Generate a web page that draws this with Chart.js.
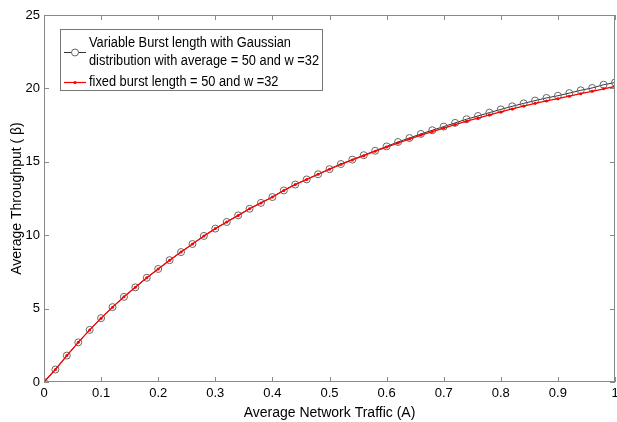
<!DOCTYPE html>
<html lang="en">
<head>
<meta charset="utf-8" />
<title>Average Throughput vs Network Traffic</title>
<script src="https://cdn.jsdelivr.net/npm/chart.js@4.4"></script>
<style>
  html,body{margin:0;padding:0;background:#fff;overflow:hidden;}
  #wrap{width:620px;height:422px;position:relative;}
</style>
</head>
<body>
<div id="wrap"><canvas id="c"></canvas></div>
<script>
/***** ---------- Data ---------- *****/
const trafficA=[0,0.02,0.04,0.06,0.08,0.10,0.12,0.14,0.16,0.18,
  0.20,0.22,0.24,0.26,0.28,0.30,0.32,0.34,0.36,0.38,
  0.40,0.42,0.44,0.46,0.48,0.50,0.52,0.54,0.56,0.58,
  0.60,0.62,0.64,0.66,0.68,0.70,0.72,0.74,0.76,0.78,
  0.80,0.82,0.84,0.86,0.88,0.90,0.92,0.94,0.96,0.98,1.00];
const gaussianBurst=[0,0.85,1.8,2.7,3.55,4.35,5.1,5.8,6.45,7.1,
  7.7,8.3,8.85,9.4,9.95,10.45,10.9,11.35,11.8,12.2,
  12.6,13.05,13.45,13.8,14.15,14.5,14.85,15.15,15.45,15.75,
  16.05,16.35,16.62,16.9,17.15,17.4,17.65,17.9,18.12,18.35,
  18.57,18.78,18.98,19.17,19.35,19.5,19.68,19.87,20.03,20.25,20.4];
const fixedBurst=[0,0.85,1.8,2.7,3.55,4.35,5.1,5.8,6.45,7.1,
  7.7,8.3,8.85,9.4,9.95,10.45,10.9,11.35,11.8,12.2,
  12.6,13.05,13.45,13.8,14.15,14.5,14.83,15.13,15.42,15.72,
  16.0,16.28,16.55,16.82,17.06,17.3,17.54,17.77,17.98,18.2,
  18.4,18.6,18.8,18.98,19.15,19.3,19.47,19.64,19.8,19.97,20.13];
const xTicks=[0,0.1,0.2,0.3,0.4,0.5,0.6,0.7,0.8,0.9,1];
const yTicks=[0,5,10,15,20,25];
const legendLines=[
  ['Variable Burst length with Gaussian','distribution with average = 50 and w =32'],
  ['fixed burst length = 50 and w =32']
];

const FONT='"Liberation Sans",Arial,sans-serif';
const FRAME='#8a8a8a';

function pts(ys){return trafficA.map((x,i)=>({x:x,y:ys[i]}));}

/***** ---------- Frame + inward ticks + legend ---------- *****/
const framePlugin={
  id:'frame',
  afterDraw(chart){
    const {ctx,chartArea:a,scales}=chart;
    ctx.save();
    ctx.strokeStyle=FRAME;ctx.lineWidth=1;
    ctx.strokeRect(a.left+0.5,a.top+0.5,a.right-a.left-1,a.bottom-a.top-1);
    ctx.beginPath();
    xTicks.forEach(v=>{
      const px=Math.round(scales.x.getPixelForValue(v))+0.5;
      ctx.moveTo(px,a.bottom);ctx.lineTo(px,a.bottom-5);
      ctx.moveTo(px,a.top);ctx.lineTo(px,a.top+5);
    });
    yTicks.forEach(v=>{
      const py=Math.round(scales.y.getPixelForValue(v))+0.5;
      ctx.moveTo(a.left,py);ctx.lineTo(a.left+5,py);
      ctx.moveTo(a.right,py);ctx.lineTo(a.right-5,py);
    });
    ctx.stroke();

    // legend box
    const bx=60.5,by=29.5,bw=262,bh=61;
    ctx.fillStyle='#fff';ctx.fillRect(bx,by,bw,bh);
    ctx.strokeStyle='#777';ctx.strokeRect(bx,by,bw,bh);
    ctx.fillStyle='#000';ctx.textBaseline='middle';
    // text is a little narrower in the original, squeeze it horizontally
    ctx.save();
    ctx.translate(89,0);ctx.scale(0.915,1);
    ctx.font='14px '+FONT;
    ctx.fillText(legendLines[0][0],0,43);
    ctx.fillText(legendLines[0][1],0,61);
    ctx.fillText(legendLines[1][0],0,82);
    ctx.restore();
    // sample: gaussian
    ctx.strokeStyle='#333';ctx.lineWidth=1;
    ctx.beginPath();ctx.moveTo(64,52.5);ctx.lineTo(86,52.5);ctx.stroke();
    ctx.strokeStyle='#666';
    ctx.beginPath();ctx.arc(75,52.5,3.5,0,Math.PI*2);ctx.fillStyle='#fff';ctx.fill();ctx.stroke();
    // sample: fixed
    ctx.strokeStyle='#ff0000';ctx.lineWidth=1.2;
    ctx.beginPath();ctx.moveTo(64,82.5);ctx.lineTo(86,82.5);ctx.stroke();
    ctx.fillStyle='#ff0000';
    ctx.beginPath();ctx.arc(75,82.5,1.6,0,Math.PI*2);ctx.fill();
    ctx.restore();
  }
};

/***** ---------- Chart ---------- *****/
new Chart(document.getElementById('c'),{
  type:'line',
  data:{datasets:[
    {label:legendLines[1].join(' '),data:pts(fixedBurst),order:0,
     borderColor:'#ff0000',borderWidth:1.3,pointRadius:1.5,pointBackgroundColor:'#ff0000',
     pointBorderWidth:0,tension:0},
    {label:legendLines[0].join(' '),data:pts(gaussianBurst),order:1,
     borderColor:'#333',borderWidth:1,pointRadius:3.5,pointStyle:'circle',
     pointBorderColor:'#666',pointBackgroundColor:'rgba(255,255,255,0)',pointBorderWidth:1,tension:0}
  ]},
  options:{
    responsive:true,maintainAspectRatio:false,animation:false,
    layout:{padding:{left:0,top:15,right:0,bottom:0}},
    plugins:{legend:{display:false},tooltip:{enabled:false}},
    scales:{
      x:{type:'linear',min:0,max:1,
        afterBuildTicks:s=>{s.ticks=xTicks.map(v=>({value:v}));},
        afterFit:s=>{s.height=40;s.paddingRight=0;s.paddingLeft=0;},
        grid:{display:false,drawTicks:false},border:{display:false},
        ticks:{color:'#000',font:{family:FONT,size:13},padding:4,maxRotation:0,
          callback:v=>String(v)},
        title:{display:true,text:'Average Network Traffic (A)',color:'#000',
          font:{family:FONT,size:14},padding:{top:0,bottom:0}}
      },
      y:{type:'linear',min:0,max:25,
        afterBuildTicks:s=>{s.ticks=yTicks.map(v=>({value:v}));},
        afterFit:s=>{s.width=44;s.paddingTop=0;s.paddingBottom=0;},
        grid:{display:false,drawTicks:false},border:{display:false},
        ticks:{color:'#000',font:{family:FONT,size:13},padding:4},
        title:{display:true,text:'Average Throughput ( \u03b2)',color:'#000',
          font:{family:FONT,size:14},padding:{top:9,bottom:0}}
      }
    }
  },
  plugins:[framePlugin]
});
</script>
</body>
</html>
